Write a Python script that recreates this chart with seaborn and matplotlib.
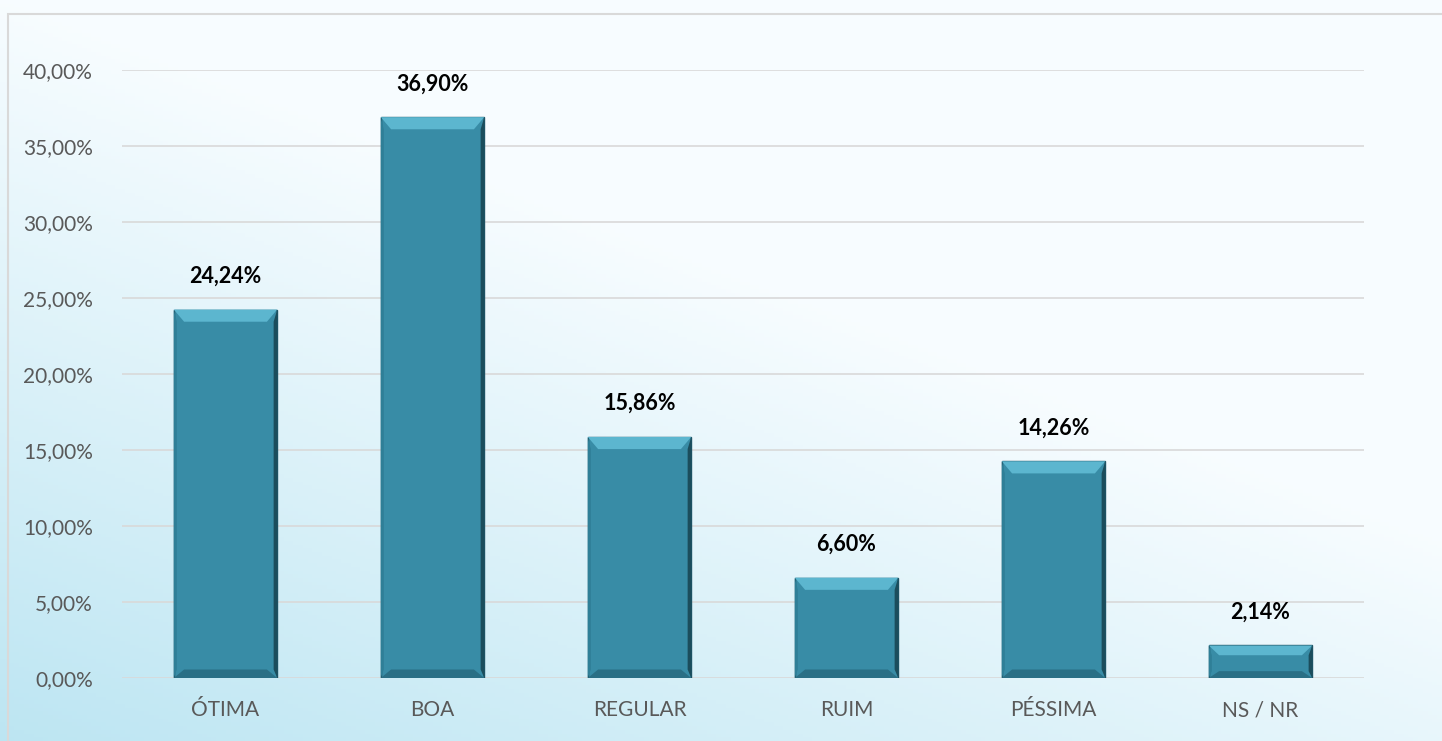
import numpy as np
import pandas as pd
import matplotlib
matplotlib.use("Agg")
import matplotlib.pyplot as plt
import seaborn as sns
from matplotlib.patches import Polygon, Rectangle

categories = ["ÓTIMA", "BOA", "REGULAR", "RUIM", "PÉSSIMA", "NS / NR"]
values = [24.24, 36.90, 15.86, 6.60, 14.26, 2.14]
yticks = [0, 5, 10, 15, 20, 25, 30, 35, 40]

sns.set_theme(style="white")
plt.rcParams['font.family'] = ['Lato', 'DejaVu Sans']

fig = plt.figure(figsize=(14.42, 7.41), dpi=100)

# background gradient (blue at bottom-left, white toward top-right)
bg = fig.add_axes([0, 0, 1, 1], zorder=0)
yy, xx = np.mgrid[0:1:200j, 0:1:300j]
t = np.clip((1 - xx) * 0.55 + (1 - yy) * 0.75 - 0.55, 0, 1) / 0.75
t = np.clip(t, 0, 1)
c1 = np.array([0.97, 0.99, 1.0])
c2 = np.array([0.74, 0.90, 0.95])
img = c1[None, None, :] * (1 - t[..., None]) + c2[None, None, :] * t[..., None]
bg.imshow(img, extent=[0, 1, 0, 1], origin="lower", aspect="auto")
bg.add_patch(Rectangle((8 / 1442, -0.1), 1.2, (741 - 14) / 741 + 0.1, fill=False,
                       edgecolor="#d9d9d9", lw=1.5))
bg.set_xlim(0, 1); bg.set_ylim(0, 1)
bg.axis("off")

ax = fig.add_axes([122 / 1442, 1 - 678 / 741, (1364 - 122) / 1442, (678 - 70) / 741], zorder=1)
ax.patch.set_alpha(0)
df = pd.DataFrame({"cat": categories, "val": values})
sns.barplot(data=df, x="cat", y="val", color="#388ca6", saturation=1, width=0.5,
            edgecolor="#1f5566", linewidth=1.0, ax=ax, zorder=3)

ax.set_ylim(0, 40)
ax.set_xlim(-0.5, len(categories) - 0.5)
ax.set_yticks(yticks)
ax.set_yticklabels([f"{v:.2f}".replace(".", ",") + "%" for v in yticks])
ax.yaxis.grid(True, color="#d9d9d9", lw=1.2, zorder=0)
ax.set_axisbelow(True)
for s in ax.spines.values():
    s.set_visible(False)
ax.set_xlabel(""); ax.set_ylabel("")
ax.tick_params(axis="y", labelsize=15, labelcolor="#595959", length=0, pad=21)
ax.tick_params(axis="x", labelsize=15, labelcolor="#595959", length=0, pad=16)

# bevel effect derived from each bar
for p, v in zip(ax.patches, values):
    x0, y0 = p.get_x(), p.get_y()
    w, h = p.get_width(), p.get_height()
    dx = w * 0.1
    dy = min(0.8, h * 0.3)
    top = Polygon([[x0, y0 + h], [x0 + w, y0 + h], [x0 + w - dx, y0 + h - dy], [x0 + dx, y0 + h - dy]],
                  closed=True, facecolor="#5cb6cf", edgecolor="none", zorder=4)
    bot = Polygon([[x0, y0], [x0 + w, y0], [x0 + w - dx, y0 + dy * 0.7], [x0 + dx, y0 + dy * 0.7]],
                  closed=True, facecolor="#2a6f85", edgecolor="none", zorder=4)
    right = Polygon([[x0 + w, y0], [x0 + w, y0 + h], [x0 + w - dx * 0.35, y0 + h - dy], [x0 + w - dx * 0.35, y0 + dy * 0.7]],
                    closed=True, facecolor="#1b4d5c", edgecolor="none", zorder=4)
    left = Polygon([[x0, y0], [x0, y0 + h], [x0 + dx * 0.3, y0 + h - dy], [x0 + dx * 0.3, y0 + dy * 0.7]],
                   closed=True, facecolor="#2f7f97", edgecolor="none", zorder=4)
    for poly in (top, bot, right, left):
        ax.add_patch(poly)
    ax.text(x0 + w / 2, y0 + h + 1.5, f"{v:.2f}".replace(".", ",") + "%",
            ha="center", va="bottom", fontsize=15.5, fontweight="bold", color="black", zorder=5)

fig.savefig("out.png", dpi=100)
